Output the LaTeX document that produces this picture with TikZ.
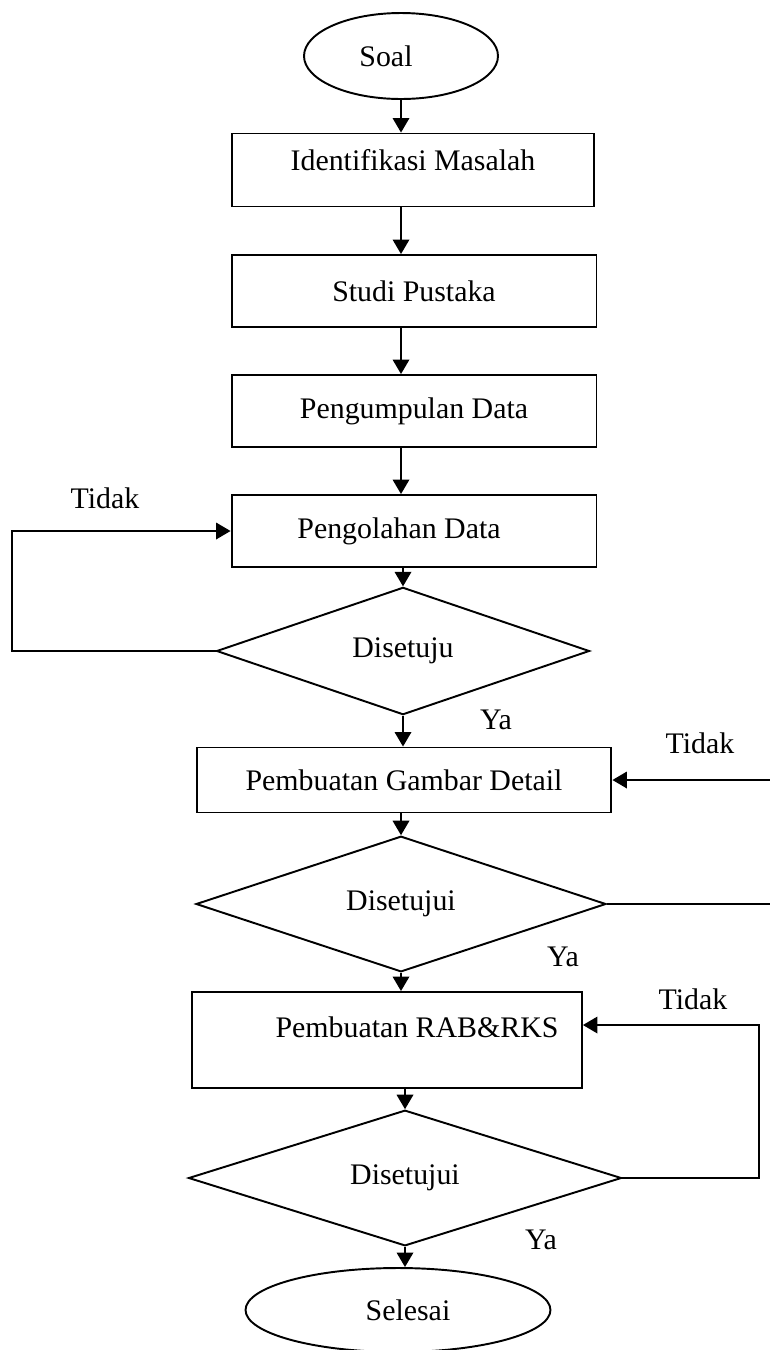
\documentclass[tikz,border=0pt]{standalone}
\usepackage{fontspec}
\setmainfont{Liberation Serif}
\usetikzlibrary{shapes.geometric,arrows.meta}

\begin{document}
\begin{tikzpicture}[x=0.02cm, y=-0.02cm, line width=1.1pt,
  every node/.style={font=\fontsize{17}{20}\selectfont},
  kotak/.style={draw, rectangle, inner sep=0pt},
  ujung/.style={draw, ellipse, inner sep=0pt},
  putusan/.style={draw, diamond, inner sep=0pt},
  panah/.style={-{Triangle[length=0.29cm,width=0.33cm]}}]
\useasboundingbox (0,0) rectangle (770,1350);

\node[ujung, minimum width=3.88cm, minimum height=1.72cm] (soal) at (401,56) {Soal\hspace*{0.6cm}};
\node[kotak, minimum width=7.24cm, minimum height=1.46cm, text depth=0.41cm] (box1) at (413,170) {Identifikasi Masalah};
\node[kotak, minimum width=7.3cm, minimum height=1.44cm] (box2) at (414,291) {Studi Pustaka};
\node[kotak, minimum width=7.3cm, minimum height=1.44cm] (box3) at (414,411) {Pengumpulan Data};
\node[kotak, minimum width=7.3cm, minimum height=1.44cm] (box4) at (414,531) {Pengolahan Data\hspace*{0.6cm}};
\node[putusan, minimum width=7.46cm, minimum height=1.9cm] (dia1) at (403,651) {Disetuju};
\node[kotak, minimum width=8.3cm, minimum height=1.3cm] (box5) at (404,780) {Pembuatan Gambar Detail};
\node[putusan, minimum width=8.2cm, minimum height=2.02cm] (dia2) at (401,904) {Disetujui};
\node[kotak, minimum width=7.8cm, minimum height=1.92cm, text depth=0.53cm] (box6) at (387,1040) {\hspace*{1.2cm}Pembuatan RAB\&RKS};
\node[putusan, minimum width=8.66cm, minimum height=2.08cm] (dia3) at (405,1178) {Disetujui};
\node[ujung, minimum width=6.1cm, minimum height=1.68cm] (selesai) at (398,1310) {\hspace*{0.4cm}Selesai};

\node (tidak1) at (105,498) {Tidak};
\node (ya1) at (496,720) {Ya};
\node (tidak2) at (700,743) {Tidak};
\node (ya2) at (563,957) {Ya};
\node (tidak3) at (693,999) {Tidak};
\node (ya3) at (541,1240) {Ya};

\coordinate (kiri) at (12,600);
\coordinate (kanan1) at (790,850);
\coordinate (kanan2) at (759,1100);

\draw[panah] (soal.south) -- (soal.south |- box1.north);
\draw[panah] (soal |- box1.south) -- (soal |- box2.north);
\draw[panah] (soal |- box2.south) -- (soal |- box3.north);
\draw[panah] (soal |- box3.south) -- (soal |- box4.north);
\draw[panah] (dia1.north |- box4.south) -- (dia1.north);
\draw[panah] (dia1.south) -- (dia1.south |- box5.north);
\draw[panah] (dia2.north |- box5.south) -- (dia2.north);
\draw[panah] (dia2.south) -- (dia2.south |- box6.north);
\draw[panah] (dia3.north |- box6.south) -- (dia3.north);
\draw[panah] (dia3.south) -- (dia3.south |- selesai.north);

\draw[panah] (dia1.west) -| (kiri) |- (box4.west);
\draw[panah] (dia2.east) -| (kanan1) |- (box5.east);
\draw[panah] (dia3.east) -| (kanan2) |- ([yshift=0.3cm]box6.east);
\end{tikzpicture}
\end{document}
